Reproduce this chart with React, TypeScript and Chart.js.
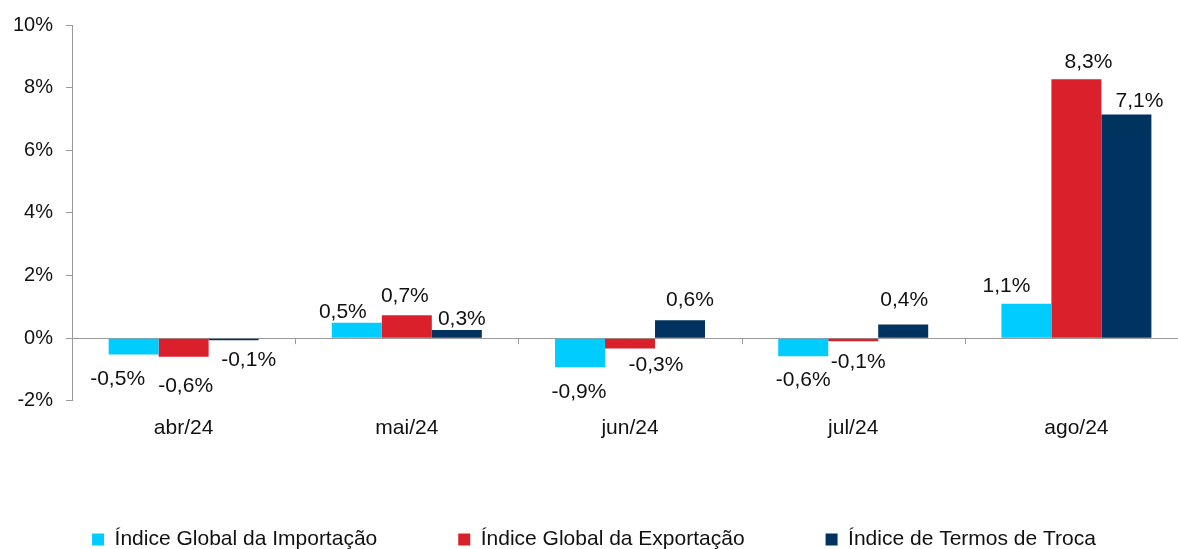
import React, { useEffect, useRef } from "react";
import { Chart, registerables } from "chart.js";

Chart.register(...registerables);

const categories = ["abr/24", "mai/24", "jun/24", "jul/24", "ago/24"];
const seriesNames = [
  "Índice Global da Importação",
  "Índice Global da Exportação",
  "Índice de Termos de Troca",
];
const importacao = [-0.52, 0.49, -0.93, -0.58, 1.1];
const exportacao = [-0.59, 0.73, -0.33, -0.1, 8.27];
const termosTroca = [-0.07, 0.26, 0.57, 0.44, 7.14];
const yTicks = [-2, 0, 2, 4, 6, 8, 10];

// label nudges (px) relative to bar end, per series / category
const labelDx = [
  [-16, -14, -1, 0, -20],
  [2, -2, 26, 5, 12],
  [15, 5, 10, 1, 13],
];
const labelDy = [
  [25, -11, 25, 24, -18],
  [30, -19, 17, 21, -17],
  [20, -11, -20, -24, -13],
];

const colors = ["#00CCFF", "#DA202B", "#00335F"];
const FONT = "'Liberation Sans', Arial, sans-serif";
const AXIS = "#9a9a9a";

const fmt = (v: number) => v.toFixed(1).replace(".", ",") + "%";

const labelsPlugin = {
  id: "valueLabels",
  afterDatasetsDraw(chart: any) {
    const ctx = chart.ctx;
    ctx.save();
    ctx.font = `21px ${FONT}`;
    ctx.fillStyle = "#111";
    ctx.textAlign = "center";
    ctx.textBaseline = "middle";
    chart.data.datasets.forEach((ds: any, di: number) => {
      const meta = chart.getDatasetMeta(di);
      meta.data.forEach((el: any, i: number) => {
        const v = ds.data[i] as number;
        ctx.fillText(fmt(v), el.x + labelDx[di][i], el.y + labelDy[di][i]);
      });
    });
    ctx.restore();
  },
};

const zeroTicksPlugin = {
  id: "zeroTicks",
  afterDraw(chart: any) {
    const x = chart.scales.x;
    const y = chart.scales.y;
    const y0 = y.getPixelForValue(0);
    const ctx = chart.ctx;
    ctx.save();
    ctx.strokeStyle = AXIS;
    ctx.lineWidth = 1;
    const n = categories.length;
    const step = (x.right - x.left) / n;
    for (let i = 1; i <= n; i++) {
      const px = Math.round(x.left + step * i) + 0.5;
      ctx.beginPath();
      ctx.moveTo(px, y0);
      ctx.lineTo(px, y0 + 6);
      ctx.stroke();
    }
    ctx.restore();
  },
};

export default function App() {
  const ref = useRef<HTMLCanvasElement | null>(null);
  useEffect(() => {
    if (!ref.current) return;
    const chart = new Chart(ref.current, {
      type: "bar",
      data: {
        labels: categories,
        datasets: [importacao, exportacao, termosTroca].map((d, i) => ({
          label: seriesNames[i],
          data: d,
          backgroundColor: colors[i],
          borderWidth: 0,
          categoryPercentage: 0.672,
          barPercentage: 1,
        })),
      },
      options: {
        responsive: false,
        animation: false,
        layout: { padding: { left: 0, top: 13, right: 0, bottom: 0 } },
        plugins: {
          tooltip: { enabled: false },
          legend: {
            position: "bottom",
            labels: {
              boxWidth: 12,
              boxHeight: 12,
              padding: 81,
              color: "#111",
              font: { family: FONT, size: 21 },
            },
          },
        },
        scales: {
          x: {
            grid: { display: false },
            border: { display: false },
            ticks: { color: "#111", font: { family: FONT, size: 21 }, padding: 7 },
          },
          y: {
            min: -2,
            max: 10,
            afterBuildTicks: (axis: any) => {
              axis.ticks = yTicks.map((v) => ({ value: v }));
            },
            grid: {
              color: (c: any) => (c.tick && c.tick.value === 0 ? AXIS : "transparent"),
              tickColor: AXIS,
              tickLength: 6,
              drawTicks: true,
            },
            border: { display: true, color: AXIS },
            ticks: {
              color: "#111",
              font: { family: FONT, size: 20 },
              padding: 13,
              callback: (v: any) => `${v}%`,
            },
          },
        },
      },
      plugins: [labelsPlugin, zeroTicksPlugin],
    });
    return () => chart.destroy();
  }, []);
  return (
    <div style={{ position: "absolute", left: 0, top: 0, width: 1178, height: 549, overflow: "hidden", background: "#fff" }}>
      <canvas ref={ref} width={1188} height={560} style={{ display: "block" }} />
    </div>
  );
}
